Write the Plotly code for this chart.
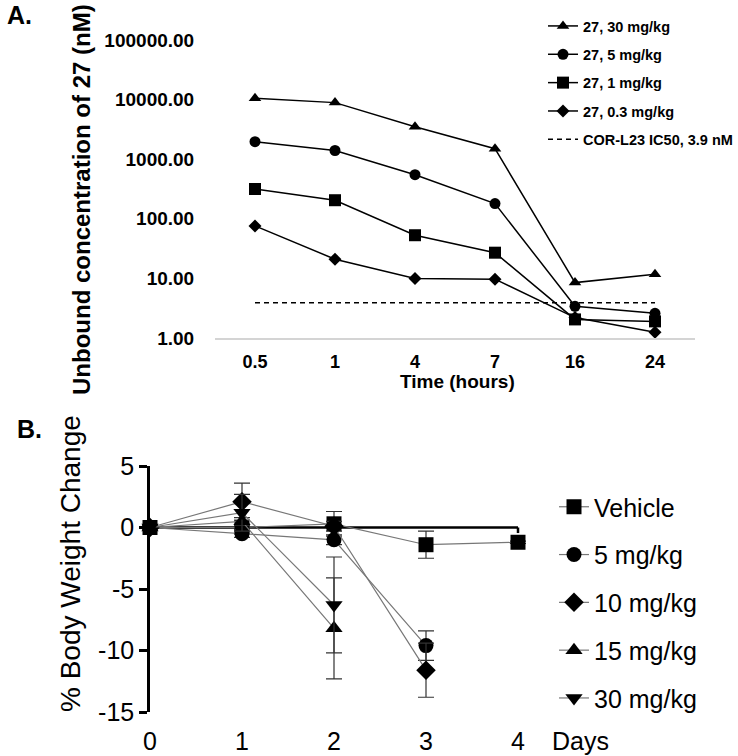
import plotly.graph_objects as go

W, H = 738, 756

# ---------------- Panel A data ----------------
time_cats = ["0.5", "1", "4", "7", "16", "24"]
conc_30 = [10500, 8900, 3500, 1500, 8.5, 11.7]
conc_5 = [1970, 1400, 550, 180, 3.4, 2.6]
conc_1 = [316, 205, 53, 27, 2.05, 1.9]
conc_03 = [76, 21, 10, 9.7, 2.2, 1.25]
ic50 = 3.9
a_names = ["27, 30 mg/kg", "27, 5 mg/kg", "27, 1 mg/kg", "27, 0.3 mg/kg"]
a_symbols = ["triangle-up", "circle", "square", "diamond"]
a_sizes = [11, 11, 12, 10]
ytick_vals_a = [1, 10, 100, 1000, 10000, 100000]
ytick_text_a = ["1.00", "10.00", "100.00", "1000.00", "10000.00", "100000.00"]

# ---------------- Panel B data ----------------
days = [0, 1, 2, 3, 4]
veh = [0, 0.0, 0.3, -1.4, -1.2]
veh_err = [0, 0.2, 1.0, 1.1, 0.1]
mg5 = [0, -0.5, -1.0, -9.6]
mg5_err = [0, 0.3, 0.4, 1.2]
mg10 = [0, 2.1, 0.1, -11.6]
mg10_err = [0, 1.5, 0.4, 2.2]
mg15 = [0, 0.5, -8.2]
mg15_err = [0, 0.3, 4.1]
mg30 = [0, 1.2, -6.3]
mg30_err = [0, 1.5, 3.9]
b_names = ["Vehicle", "5 mg/kg", "10 mg/kg", "15 mg/kg", "30 mg/kg"]
b_symbols = ["square", "circle", "diamond", "triangle-up", "triangle-down"]
ytick_vals_b = [-15, -10, -5, 0, 5]
ytick_text_b = ["-15", "-10", "-5", "0", "5"]

def px_x(p):
    return p / W

def px_y(p):
    return 1 - p / H

fig = go.Figure()

# Panel A traces
for name, vals, sym, sz in zip(a_names, [conc_30, conc_5, conc_1, conc_03], a_symbols, a_sizes):
    fig.add_trace(go.Scatter(
        x=time_cats, y=vals, mode="lines+markers", name=name,
        line=dict(color="black", width=1.5),
        marker=dict(symbol=sym, size=sz, color="black"),
        xaxis="x", yaxis="y", legend="legend", legendgroup=name,
        cliponaxis=False,
    ))
fig.add_trace(go.Scatter(
    x=time_cats, y=[ic50] * len(time_cats), mode="lines",
    name="COR-L23 IC50, 3.9 nM",
    line=dict(color="black", width=1.5, dash="5px,4px"),
    xaxis="x", yaxis="y", legend="legend", legendgroup="ic50",
))

# Panel B traces
b_data = [(veh, veh_err), (mg5, mg5_err), (mg10, mg10_err), (mg15, mg15_err), (mg30, mg30_err)]
for name, (vals, errs), sym in zip(b_names, b_data, b_symbols):
    fig.add_trace(go.Scatter(
        x=days[:len(vals)], y=vals, mode="lines+markers", name=name,
        line=dict(color="#777777", width=1.2),
        marker=dict(symbol=sym, size=15, color="black"),
        error_y=dict(type="data", array=errs, visible=True, color="#333333",
                     thickness=1.2, width=8),
        xaxis="x2", yaxis="y2", legend="legend2", legendgroup=name,
        cliponaxis=False,
    ))

# zero line of panel B (drawn as axis)
fig.add_shape(type="line", xref="x2", yref="y2", x0=0, x1=4, y0=0, y1=0,
              line=dict(color="black", width=2.5), layer="below")
fig.add_shape(type="line", xref="x2", yref="y2", x0=4, x1=4, y0=0, y1=-0.45,
              line=dict(color="black", width=2.5), layer="below")

bold = "Liberation Sans"

fig.update_layout(
    width=W, height=H,
    margin=dict(l=0, r=0, t=0, b=0, autoexpand=False),
    paper_bgcolor="white", plot_bgcolor="white",
    font=dict(family="Liberation Sans, Arial", color="black"),
    xaxis=dict(
        domain=[px_x(215), px_x(695)], anchor="y", type="category",
        range=[-0.5, 5.5], showline=True, linecolor="#d4d4d4", linewidth=2,
        showgrid=False, zeroline=False, ticks="outside", ticklen=6,
        tickcolor="rgba(0,0,0,0)", automargin=False,
        tickfont=dict(family=bold, size=18, weight="bold", color="black"),
    ),
    yaxis=dict(
        domain=[px_y(338), px_y(40)], anchor="x", type="log", range=[0, 5],
        showline=False, showgrid=False, zeroline=False,
        tickvals=ytick_vals_a, ticktext=ytick_text_a,
        ticks="outside", ticklen=16, tickcolor="rgba(0,0,0,0)", automargin=False,
        tickfont=dict(family=bold, size=19, weight="bold", color="black"),
    ),
    xaxis2=dict(
        domain=[px_x(150), px_x(530)], anchor="y2",
        range=[0, 380 / 92], showline=False, showgrid=False, zeroline=False,
        tickvals=days, ticktext=[str(d) for d in days],
        ticks="outside", ticklen=7, tickcolor="rgba(0,0,0,0)", automargin=False,
        tickfont=dict(size=25, color="black"),
    ),
    yaxis2=dict(
        domain=[px_y(712), px_y(466)], anchor="x2", range=[-15, 5],
        showline=True, linecolor="black", linewidth=2.5,
        showgrid=False, zeroline=False,
        tickvals=ytick_vals_b, ticktext=ytick_text_b,
        ticks="outside", ticklen=8, tickwidth=2.5, tickcolor="black", automargin=False,
        tickfont=dict(size=25, color="black"),
    ),
    legend=dict(
        x=px_x(543), y=px_y(10), xanchor="left", yanchor="top",
        font=dict(family=bold, size=14.5, weight="bold", color="black"),
        tracegroupgap=6.5, bgcolor="rgba(255,255,255,0)", itemsizing="trace",
    ),
    legend2=dict(
        x=px_x(554), y=px_y(484), xanchor="left", yanchor="top",
        font=dict(size=25, color="black"),
        tracegroupgap=12.3, bgcolor="rgba(255,255,255,0)", itemsizing="trace",
    ),
    showlegend=True,
)

annots = [
    dict(text="<b>A.</b>", x=px_x(19), y=px_y(15), font=dict(size=25)),
    dict(text="<b>B.</b>", x=px_x(29), y=px_y(429), font=dict(size=25)),
    dict(text="<b>Unbound concentration of 27 (nM)</b>", x=px_x(81), y=px_y(200),
         font=dict(size=24), textangle=-90),
    dict(text="<b>Time (hours)</b>", x=px_x(457), y=px_y(381), font=dict(size=19)),
    dict(text="% Body Weight Change", x=px_x(70), y=px_y(564),
         font=dict(size=28), textangle=-90),
    dict(text="Days", x=px_x(580), y=px_y(741), font=dict(size=25)),
]
for a in annots:
    fig.add_annotation(xref="paper", yref="paper", showarrow=False,
                       xanchor="center", yanchor="middle", **a)

fig.write_html("out.html", config={"displayModeBar": False},
               post_script="document.body.style.margin='0';")
